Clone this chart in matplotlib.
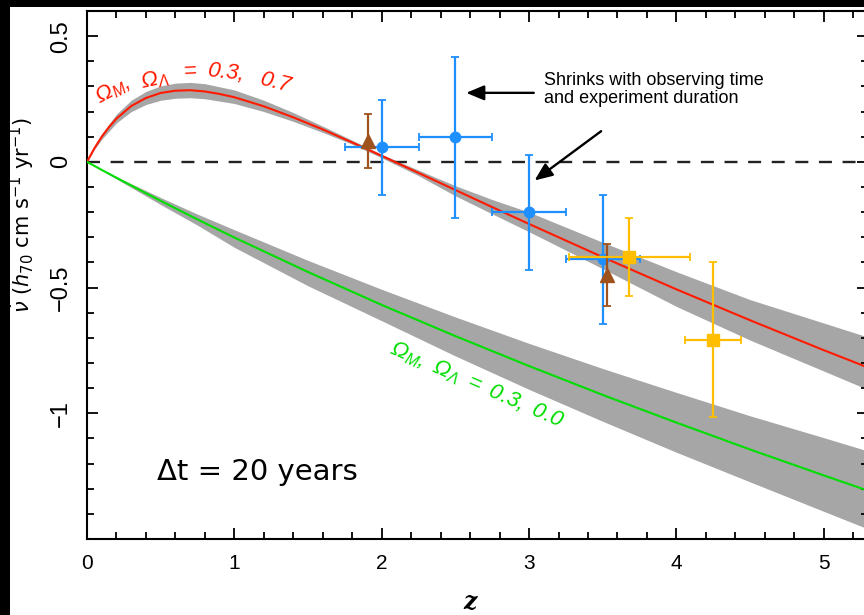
import matplotlib
matplotlib.use("Agg")
import matplotlib.pyplot as plt
from matplotlib.patches import Rectangle
from matplotlib.ticker import FixedLocator, MultipleLocator, FuncFormatter

plt.rcParams['font.family'] = ['Liberation Sans', 'DejaVu Sans']
plt.rcParams['mathtext.fontset'] = 'custom'
plt.rcParams['mathtext.rm'] = 'Liberation Sans:italic'
plt.rcParams['mathtext.it'] = 'Liberation Sans:italic'
plt.rcParams['mathtext.sf'] = 'Liberation Sans'

# ---- data ----
# flat model Omega_M, Omega_L = 0.3, 0.7
z_lcdm = [0, 0.05, 0.1, 0.15, 0.2, 0.3, 0.4, 0.5, 0.6, 0.7, 0.8, 0.9, 1.0, 1.2, 1.4,
          1.6, 1.8, 2.0, 2.25, 2.5, 2.75, 3.0, 3.5, 4.0, 4.5, 5.0, 5.3]
v_lcdm = [0, 0.054, 0.100, 0.139, 0.172, 0.222, 0.254, 0.274, 0.283, 0.285, 0.280,
          0.270, 0.257, 0.221, 0.177, 0.129, 0.077, 0.024, -0.044, -0.112, -0.180,
          -0.247, -0.379, -0.507, -0.630, -0.749, -0.818]

z_lcdm_band = [0, 0.05, 0.1, 0.2, 0.3, 0.4, 0.5, 0.6, 0.7, 0.8, 1.0, 1.2, 1.4, 1.6,
               1.8, 2.0, 2.25, 2.5, 2.75, 3.0, 3.5, 4.0, 4.5, 5.0, 5.3]
lcdm_lo = [0, 0.049, 0.090, 0.155, 0.200, 0.228, 0.245, 0.253, 0.255, 0.251, 0.232,
           0.200, 0.161, 0.117, 0.070, 0.016, -0.055, -0.135, -0.207, -0.278, -0.425,
           -0.575, -0.709, -0.832, -0.906]
lcdm_hi = [0, 0.060, 0.112, 0.190, 0.245, 0.280, 0.302, 0.313, 0.316, 0.311, 0.286,
           0.245, 0.196, 0.142, 0.086, 0.030, -0.033, -0.095, -0.150, -0.200, -0.320,
           -0.437, -0.548, -0.641, -0.697]

# open model Omega_M, Omega_L = 0.3, 0.0
z_open = [0, 0.1, 0.25, 0.5, 0.75, 1.0, 1.5, 2.0, 2.5, 3.0, 3.5, 4.0, 4.5, 5.0, 5.3]
v_open = [0, -0.032, -0.079, -0.155, -0.229, -0.301, -0.438, -0.569, -0.693, -0.812,
          -0.927, -1.037, -1.144, -1.247, -1.308]

z_open_band = [0, 0.25, 0.5, 0.75, 1.0, 1.5, 2.0, 2.5, 3.0, 3.5, 4.0, 4.5, 5.0, 5.3]
open_hi = [0, -0.073, -0.142, -0.208, -0.270, -0.392, -0.507, -0.617, -0.722, -0.822,
           -0.917, -1.010, -1.097, -1.150]
open_lo = [0, -0.085, -0.170, -0.252, -0.340, -0.493, -0.632, -0.772, -0.905, -1.032,
           -1.155, -1.273, -1.390, -1.460]

# simulated measurements
blue_z = [2.0, 2.5, 3.0, 3.5]
blue_v = [0.058, 0.098, -0.200, -0.388]
blue_verr = [0.19, 0.32, 0.229, 0.258]
blue_zerr = [0.25, 0.25, 0.25, 0.25]

brown_z = [1.91, 3.53]
brown_v = [0.083, -0.449]
brown_verr = [0.108, 0.123]

yellow_z = [3.68, 4.25]
yellow_v = [-0.377, -0.707]
yellow_verr = [0.155, 0.309]
yellow_zerr = [0.41, 0.19]

x_ticks = [0, 1, 2, 3, 4, 5]
y_ticks = [-1, -0.5, 0, 0.5]

# ---- figure ----
fig = plt.figure(figsize=(8.64, 6.15), dpi=100, facecolor='black')
fig.patches.append(Rectangle((10 / 864, 0), 1, 1 - 7 / 615, transform=fig.transFigure,
                             facecolor='white', edgecolor='none', zorder=-10))
ax = fig.add_axes([87 / 864, 76 / 615, 781 / 864, 528 / 615])

band = '#a6a6a6'
ax.fill_between(z_lcdm_band, lcdm_lo, lcdm_hi, color=band, lw=0, zorder=1)
ax.fill_between(z_open_band, open_lo, open_hi, color=band, lw=0, zorder=1)
ax.axhline(0, color='#222222', lw=1.7, ls=(0, (5.5, 4.5)), zorder=2)
ax.plot(z_lcdm, v_lcdm, color='#ff1a00', lw=1.5, zorder=3)
ax.plot(z_open, v_open, color='#00dd00', lw=1.5, zorder=3)

ax.errorbar(blue_z, blue_v, yerr=blue_verr, xerr=blue_zerr, fmt='o', ms=7.5,
            color='#1e8fff', ecolor='#1e8fff', elinewidth=1.6, capsize=2.6,
            capthick=1.3, zorder=5)
ax.errorbar(brown_z, brown_v, yerr=brown_verr, fmt='^', ms=9.5,
            color='#a0521e', ecolor='#a0521e', elinewidth=1.6, capsize=2.6,
            capthick=1.3, zorder=6)
ax.errorbar(yellow_z, yellow_v, yerr=yellow_verr, xerr=yellow_zerr, fmt='s', ms=8,
            color='#ffbf00', ecolor='#ffbf00', elinewidth=1.6, capsize=2.6,
            capthick=1.3, zorder=7)

# curve labels (red one bends along the curve)
red_parts = [(r'$\Omega_M,$', 0.172, 0.284, 28), (r'$\Omega_\Lambda$', 0.457, 0.327, 12),
             (r'$=$', 0.688, 0.363, 3), (r'$0.3,$', 0.939, 0.359, -6),
             (r'$0.7$', 1.285, 0.315, -14)]
for txt, x, y, rot in red_parts:
    ax.text(x, y, txt, color='#ff1a00', fontsize=16, rotation=rot,
            ha='center', va='center', rotation_mode='anchor', zorder=8)
ax.text(2.643, -0.886, r'$\Omega_M,\ \Omega_\Lambda\ =\ 0.3,\ 0.0$', color='#00dd00',
        fontsize=16, rotation=-23.5, ha='center', va='center', rotation_mode='anchor')

ax.text(0.475, -1.232, '\u0394t = 20 years', fontsize=21, family='DejaVu Sans',
        ha='left', va='center')

ax.text(3.098, 0.288, 'Shrinks with observing time\nand experiment duration',
        fontsize=13, ha='left', va='center', linespacing=1.05)
arrow = dict(arrowstyle='-|>,head_length=0.6,head_width=0.25', color='black', lw=1.7,
             mutation_scale=18, shrinkA=0, shrinkB=0)
ax.annotate('', xy=(2.573, 0.2745), xytext=(3.032, 0.2745), arrowprops=arrow, zorder=9)
ax.annotate('', xy=(3.037, -0.074), xytext=(3.489, 0.122), arrowprops=arrow, zorder=9)

# axes
ax.set_xlim(0, 5.3)
ax.set_ylim(-1.5, 0.6)
ax.xaxis.set_major_locator(FixedLocator(x_ticks))
ax.xaxis.set_minor_locator(MultipleLocator(0.2))
ax.yaxis.set_major_locator(FixedLocator(y_ticks))
ax.yaxis.set_minor_locator(MultipleLocator(0.1))
fmt = FuncFormatter(lambda v, p: f'{v:g}'.replace('-', '\u2212'))
ax.xaxis.set_major_formatter(fmt)
ax.yaxis.set_major_formatter(fmt)
ax.tick_params(which='both', direction='in', top=True, right=True, width=1.3)
ax.tick_params(which='major', length=8, pad=11)
ax.tick_params(which='minor', length=4.7)
ax.tick_params(axis='x', labelsize=15)
ax.tick_params(axis='y', labelsize=17, labelrotation=90)
for lab in ax.get_yticklabels():
    lab.set_verticalalignment('center')
for s in ax.spines.values():
    s.set_linewidth(1.5)

ax.set_ylabel(r'$\dot{\nu}\ (h_{70}\ \mathrm{cm\ s^{-1}\ yr^{-1}})$', fontsize=15,
              math_fontfamily='dejavusans', va='center')
ax.yaxis.set_label_coords(-0.083, 0.614)
ax.set_xlabel('z', fontsize=17, family='DejaVu Serif', style='italic', weight='bold',
              va='center')
ax.xaxis.set_label_coords(0.49, -0.119)

fig.savefig('out.png', dpi=100)
